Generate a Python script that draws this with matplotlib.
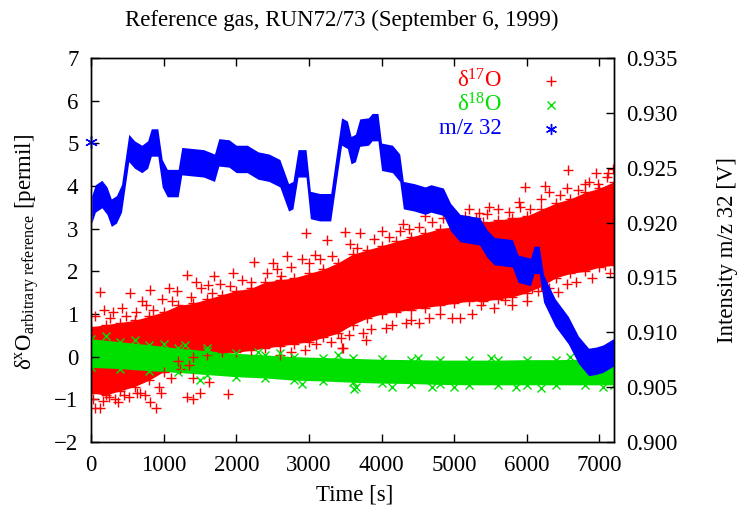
import matplotlib
matplotlib.use("Agg")
import matplotlib.pyplot as plt
import numpy as np

plt.rcParams['font.family'] = ['Liberation Serif', 'DejaVu Serif']
plt.rcParams['mathtext.fontset'] = 'custom'
plt.rcParams['mathtext.rm'] = 'Liberation Serif'
plt.rcParams['mathtext.it'] = 'Liberation Serif:italic'

# d17O: dense core (lower / upper edge) every 200 s
red_t = [0, 200, 400, 600, 800, 1000, 1200, 1400, 1600, 1800, 2000, 2200, 2400,
         2600, 2800, 3000, 3200, 3400, 3600, 3800, 4000, 4200, 4400, 4600, 4800,
         5000, 5200, 5400, 5600, 5800, 6000, 6200, 6400, 6600, 6800, 7000, 7200]
red_lo = [-0.85, -0.9, -0.8, -0.7, -0.55, -0.35, -0.1, 0.0, 0.05, 0.1, 0.1, 0.15, 0.2,
          0.25, 0.3, 0.35, 0.45, 0.55, 0.75, 0.9, 1.0, 1.05, 1.1, 1.15, 1.2,
          1.25, 1.3, 1.3, 1.35, 1.4, 1.5, 1.65, 1.85, 1.95, 2.0, 2.1, 2.15]
red_hi = [0.7, 0.75, 0.8, 0.85, 0.95, 1.05, 1.2, 1.25, 1.35, 1.45, 1.55, 1.6, 1.75,
          1.8, 1.85, 1.95, 2.05, 2.2, 2.4, 2.5, 2.6, 2.7, 2.8, 2.9, 3.0,
          3.05, 3.1, 3.15, 3.2, 3.25, 3.3, 3.45, 3.6, 3.7, 3.85, 3.95, 4.1]
# d17O: points on the ragged edge of the core
red_edge_t = [50, 180, 260, 420, 480, 620, 760, 860, 980, 1120, 1180, 1380, 1520, 1660,
              1780, 1920, 2080, 2200, 2420, 2560, 2620, 2760, 3000, 3150, 3320, 3560,
              3660, 3900, 4100, 4250, 4380, 4520, 4700, 4850, 5000, 5150, 5300, 5450,
              5600, 5750, 5900, 6050, 6200, 6300, 6450, 6550, 6700, 6850, 6980, 7120,
              30, 170, 250, 330, 450, 520, 680, 740, 930, 1100, 1220, 1350, 2600, 2750,
              2950, 3100, 3300, 3550, 3850, 4150, 4400, 4650, 5250, 5550, 5800, 6000,
              6300, 6550, 6900, 7150]
red_edge_v = [0.95, 1.1, 0.9, 1.15, 0.95, 1.05, 1.2, 1.1, 1.35, 1.3, 1.55, 1.4, 1.6, 1.5,
              1.7, 1.65, 1.8, 1.75, 1.95, 2.05, 1.9, 2.1, 2.2, 2.3, 2.35, 2.65,
              2.55, 2.75, 2.8, 2.95, 3.0, 3.05, 3.15, 3.25, 3.2, 3.3, 3.25, 3.35,
              3.45, 3.4, 3.5, 3.45, 3.7, 3.85, 3.8, 3.95, 3.9, 4.1, 4.05, 4.3,
              -1.0, -1.05, -0.95, -1.0, -0.9, -0.95, -0.85, -0.9, -0.7, -0.5, -0.3, -0.2,
              0.05, 0.1, 0.15, 0.3, 0.35, 0.5, 0.65, 0.75, 0.85, 0.9, 1.0, 1.15,
              1.2, 1.3, 1.6, 1.7, 1.85, 1.95]
# d17O: scattered points well outside the core
red_out_t = [125, 540, 810, 1070, 1320, 1610, 1950, 2250, 2900, 2960, 3080, 3250, 3490,
             300, 700, 1450, 1700, 2500, 2700, 3700, 4000, 4300, 4600, 4900, 5200,
             5340, 5480, 5890, 5980, 6250, 6570, 6800, 6950, 7100, 7180,
             60, 120, 370, 630, 810, 890, 960, 1320, 1410, 1500, 1880, 1400, 1630,
             3440, 3460, 3470, 3740, 3780, 4060, 4330, 4510, 4800, 4970, 5080, 5370,
             5700, 6070, 6160, 6430, 6680, 7080]
red_out_v = [1.52, 1.49, 1.56, 1.6, 1.92, 1.68, 1.96, 2.22, 2.3, 2.9, 2.38, 2.73, 2.92,
             1.05, 1.3, 1.75, 1.9, 2.2, 2.35, 2.9, 2.95, 3.1, 3.3, 3.4, 3.45,
             3.37, 3.5, 3.63, 3.98, 4.0, 4.38, 4.05, 4.3, 4.2, 4.4,
             -1.2, -1.2, -1.07, -0.85, -1.06, -1.2, -0.85, -0.94, -0.99, -0.85, -0.87, -0.5, -0.6,
             0.43, 0.2, 0.2, 0.55, 0.4, 0.67, 0.8, 0.8, 1.0, 0.9, 0.9, 1.2,
             1.33, 1.6, 1.55, 1.52, 1.75, 2.15]

# d18O: band edges every 400 s
green_t = [0, 400, 800, 1200, 1600, 2000, 2400, 2800, 3200, 3600,
           4000, 4400, 4800, 5200, 5600, 6000, 6400, 6800, 7200]
green_lo = [-0.25, -0.28, -0.33, -0.37, -0.42, -0.47, -0.5, -0.55, -0.57, -0.6,
            -0.62, -0.63, -0.65, -0.66, -0.66, -0.66, -0.66, -0.66, -0.66]
green_hi = [0.42, 0.35, 0.28, 0.2, 0.14, 0.08, 0.04, 0.0, -0.02, -0.04,
            -0.06, -0.07, -0.08, -0.08, -0.08, -0.07, -0.07, -0.06, -0.04]
green_out_t = [600, 1000, 1600, 2300, 1500, 2900, 3620, 3650, 4150, 4700, 5850, 7050,
               200, 1300, 2600, 3400, 4500, 5000, 5500, 6200, 6600, 7150]
green_out_v = [0.4, 0.3, 0.2, 0.12, -0.55, -0.65, -0.75, -0.72, -0.7, -0.72, -0.72, -0.72,
               0.48, 0.28, 0.08, 0.03, -0.02, -0.7, -0.02, -0.73, 0.0, 0.02]

# m/z 32 intensity (centre of the noisy trace), V
blue_t = [10, 60, 150, 220, 280, 350, 420, 470, 520, 600, 700, 780, 830, 920, 980,
          1050, 1200, 1250, 1400, 1550, 1700, 1760, 1900, 2000, 2150, 2300, 2450,
          2600, 2720, 2780, 2850, 2960, 3020, 3150, 3300, 3380, 3450, 3530, 3580,
          3640, 3700, 3820, 3870, 3950, 4000, 4150, 4250, 4300, 4450, 4600, 4680,
          4850, 4950, 5080, 5350, 5450, 5550, 5800, 5880, 6050, 6100, 6170, 6230,
          6390, 6570, 6710, 6850, 6950, 7050, 7200]
blue_v = [0.9212, 0.9222, 0.9226, 0.9220, 0.9209, 0.9212, 0.9222, 0.9245, 0.9268,
          0.9262, 0.9258, 0.9262, 0.9273, 0.9273, 0.9245, 0.9236, 0.9236, 0.9256,
          0.9255, 0.9254, 0.9250, 0.9264, 0.9263, 0.9258, 0.9258, 0.9252, 0.9250,
          0.9245, 0.9223, 0.9225, 0.9254, 0.9254, 0.9216, 0.9214, 0.9214, 0.9251,
          0.9283, 0.9280, 0.9266, 0.9268, 0.9282, 0.9283, 0.9287, 0.9287, 0.9260,
          0.9258, 0.9250, 0.9225, 0.9223, 0.9220, 0.9222, 0.9219, 0.9205, 0.9195,
          0.9192, 0.9181, 0.9174, 0.9172, 0.9158, 0.9155, 0.9166, 0.9166, 0.9140,
          0.9118, 0.9102, 0.9084, 0.9073, 0.9074, 0.9076, 0.9082]
blue_first = (0, 0.9273)
blue_noise = 0.00125

red = '#ff0000'
green = '#00e000'
blue = '#0000ff'
fs = 16.5

fig = plt.figure(figsize=(7.38, 5.13), dpi=100)
ax = fig.add_axes([0.1233, 0.1384, 0.7087, 0.7485])

ax.fill_between(red_t, red_lo, red_hi, color=red, lw=0)
for tt, vv in [(red_t, red_lo), (red_t, red_hi), (red_edge_t, red_edge_v),
               (red_out_t, red_out_v)]:
    ax.plot(tt, vv, '+', color=red, ms=7, mew=1)

ax.fill_between(green_t, green_lo, green_hi, color=green, lw=0)
for tt, vv in [(green_t, green_lo), (green_t, green_hi), (green_out_t, green_out_v)]:
    ax.plot(tt, vv, 'x', color=green, ms=6, mew=1)

ax.set_xlim(0, 7200)
ax.set_ylim(-2, 7)
ax.set_xticks([0, 1000, 2000, 3000, 4000, 5000, 6000, 7000])
ax.set_yticks(range(-2, 8))

ax2 = ax.twinx()
bv = np.array(blue_v)
ax2.fill_between(blue_t, bv - blue_noise, bv + blue_noise, color=blue, lw=0)
ax2.plot([blue_first[0]], [blue_first[1]], marker=(6, 2, 0), color=blue, ms=9, mew=1,
         clip_on=False)
ax2.set_ylim(0.900, 0.935)
ax2.set_yticks([0.900, 0.905, 0.910, 0.915, 0.920, 0.925, 0.930, 0.935])
ax2.set_yticklabels(['%.3f' % v for v in ax2.get_yticks()])

for a in (ax, ax2):
    a.tick_params(direction='in', length=6, width=1, labelsize=fs, pad=9,
                  top=True)
    for s in a.spines.values():
        s.set_linewidth(1)
ax.tick_params(axis='y', right=False)
ax2.tick_params(axis='y', left=False)

fig.text(355 / 738, 1 - 495 / 513, 'Time [s]', fontsize=fs, ha='center', va='center')
fig.text(27 / 738, 1 - 252 / 513,
         r'δ$^{\mathrm{x}}$O$_{\mathrm{arbitrary\ reference}}$ [permil]',
         fontsize=fs, rotation=90, ha='center', va='center')
fig.text(727 / 738, 1 - 250 / 513, 'Intensity m/z 32 [V]', fontsize=fs,
         rotation=90, ha='center', va='center')
fig.text(342 / 738, 1 - 20 / 513, 'Reference gas, RUN72/73 (September 6, 1999)',
         ha='center', va='center', fontsize=fs)

# key in the upper right, text right aligned, sample on the right
keys = [(r'δ$^{17}$O', red, '+', 7), (r'δ$^{18}$O', green, 'x', 6),
        ('m/z 32', blue, (6, 2, 0), 8)]
for i, (lab, c, m, ms) in enumerate(keys):
    y = 0.940 - i * 0.062
    ax2.text(0.786, y, lab, color=c, fontsize=fs, ha='right', va='center',
             transform=ax2.transAxes)
    ax2.plot([0.8795], [y], marker=m, color=c, ms=ms, mew=1, ls='none',
             transform=ax2.transAxes)

fig.savefig('out.png', dpi=100)
